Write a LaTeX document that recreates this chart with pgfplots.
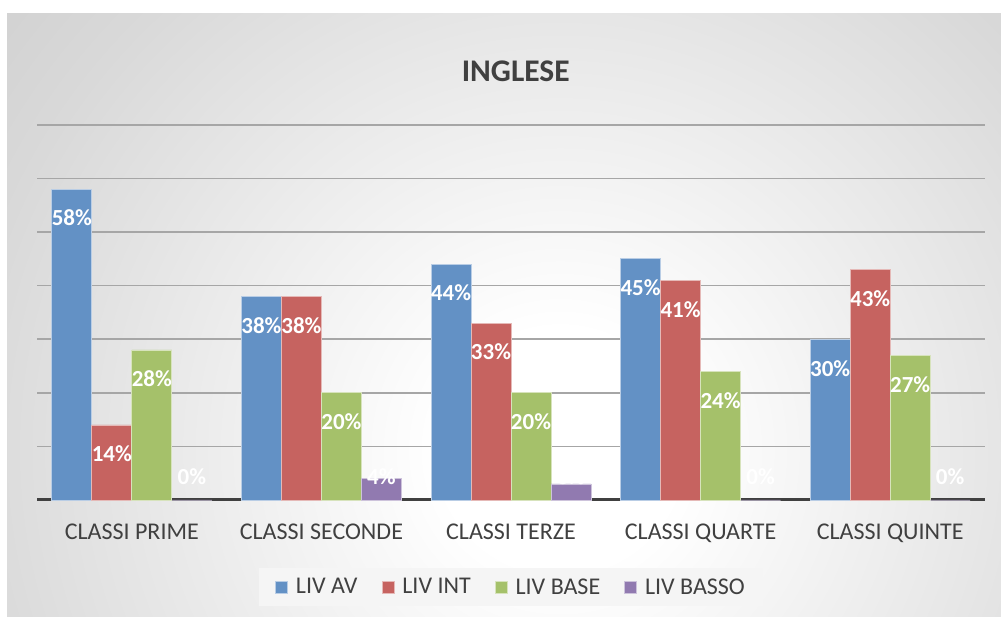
\documentclass[border=0pt]{standalone}
\usepackage{pgfplots}
\usepackage{pgfplotstable}
\pgfplotsset{compat=1.18}
\usepackage{fontspec}
\setmainfont{Carlito}
\definecolor{cblue}{RGB}{99,145,197}
\definecolor{cred}{RGB}{198,99,96}
\definecolor{cgreen}{RGB}{165,193,106}
\definecolor{cpurple}{RGB}{145,122,176}
\definecolor{txt}{RGB}{64,64,64}
\pgfdeclareradialshading{bgshade}{\pgfpoint{0bp}{0bp}}{color(0bp)=(white); color(5bp)=(white); color(25bp)=(black!15); color(50bp)=(black!29); color(100bp)=(black!29)}

\pgfplotstableread{
x av int base basso
0 58 14 28 0
1 38 38 20 4
2 44 33 20 3
3 45 41 24 0
4 30 43 27 0
}\datatable

\begin{document}
\begin{tikzpicture}
\useasboundingbox (0,0) rectangle (1001pt,617pt);
\fill[white] (0,0) rectangle (1001pt,617pt);
\begin{scope}
\clip (7pt,0pt) rectangle (1001pt,603pt);
\shade[shading=bgshade] (-40pt,-433pt) rectangle (1160pt,767pt);
\end{scope}
\begin{axis}[
  at={(37pt,117pt)}, anchor=south west,
  scale only axis, width=948pt, height=375.2pt,
  xmin=-0.5, xmax=4.5, ymin=0, ymax=70,
  enlargelimits=false, clip=false,
  /pgf/number format/assume math mode=true,
  ybar=0pt, bar width=40pt,
  axis x line*=bottom, axis y line*=left,
  x axis line style={draw=txt, line width=3pt, -},
  y axis line style={draw=none},
  xtick={0,1,2,3,4},
  xticklabels={CLASSI PRIME, CLASSI SECONDE, CLASSI TERZE, CLASSI QUARTE, CLASSI QUINTE},
  xtick style={draw=none}, ytick style={draw=none},
  ytick={0,10,...,70}, yticklabels={},
  ymajorgrids, grid style={draw=black!35, line width=1.5pt},
  xticklabel style={anchor=base, yshift=-35pt, font=\fontsize{24}{28}\selectfont, text=txt},
  title={INGLESE},
  title style={anchor=center, at={(0.505,1)}, yshift=48pt, font=\fontsize{31.5}{36}\selectfont\bfseries, text=txt},
  visualization depends on={rawy \as \rawy},
  nodes near coords={\pgfmathprintnumber[fixed,precision=0]{\pgfplotspointmeta}\%},
  every node near coord/.append style={anchor=center, text=white, font=\fontsize{23}{27}\selectfont\bfseries,
     yshift={ifthenelse(\rawy>9.7,-29,23-5.36*\rawy)}},
  legend columns=4,
  legend style={at={(0.5,0)}, anchor=center, yshift=-87pt, draw=none, fill=black!4,
     font=\fontsize{24}{28}\selectfont, text=txt, inner xsep=16pt, inner ysep=8pt,
     /tikz/every odd column/.append style={column sep=6pt},
     /tikz/every even column/.append style={column sep=22pt}},
  legend image code/.code={\filldraw[#1, line width=0.8pt] (0pt,-6pt) rectangle (12pt,6pt);},
]
\addplot[fill=cblue, draw=cblue!45!white, line width=0.8pt] table[x=x,y=av]{\datatable};
\addplot[fill=cred, draw=cred!45!white, line width=0.8pt] table[x=x,y=int]{\datatable};
\addplot[fill=cgreen, draw=cgreen!45!white, line width=0.8pt] table[x=x,y=base]{\datatable};
\addplot[fill=cpurple, draw=cpurple!45!white, line width=0.8pt] table[x=x,y=basso]{\datatable};
\legend{LIV AV, LIV INT, LIV BASE, LIV BASSO}
\end{axis}
\end{tikzpicture}
\end{document}
